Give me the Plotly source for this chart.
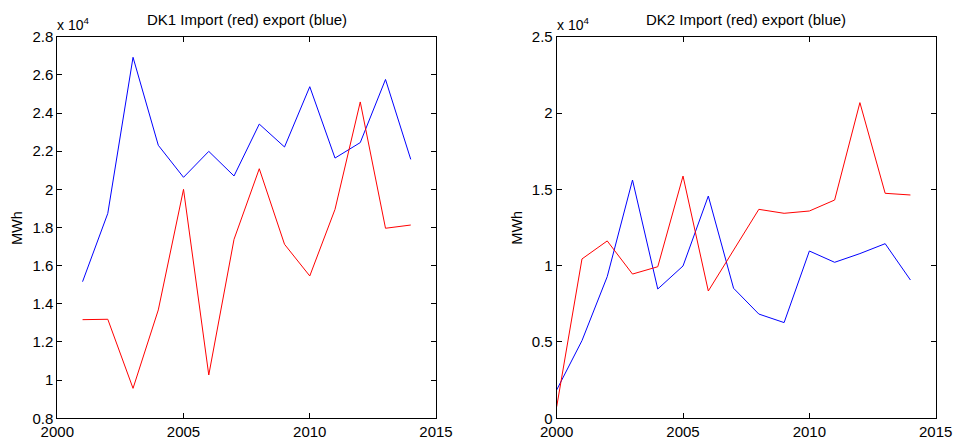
import plotly.graph_objects as go

years_dk1 = list(range(2001, 2015))
dk1_export = [15160, 18740, 26920, 22310, 20630, 21990, 20700, 23420, 22220, 25380, 21640, 22450, 25760, 21570]
dk1_import = [13170, 13190, 9570, 13680, 20000, 10270, 17380, 21080, 17120, 15460, 18950, 24580, 17960, 18130]

years_dk2 = list(range(2000, 2015))
dk2_export = [1860, 5090, 9280, 15610, 8470, 9980, 14560, 8520, 6830, 6270, 10960, 10220, 10790, 11440, 9060]
dk2_import = [760, 10440, 11620, 9450, 9930, 15870, 8340, 11000, 13690, 13430, 13580, 14300, 20680, 14740, 14630]

x_ticks = [2000, 2005, 2010, 2015]
dk1_yticks = [8000, 10000, 12000, 14000, 16000, 18000, 20000, 22000, 24000, 26000, 28000]
dk1_ylabels = ["0.8", "1", "1.2", "1.4", "1.6", "1.8", "2", "2.2", "2.4", "2.6", "2.8"]
dk2_yticks = [0, 5000, 10000, 15000, 20000, 25000]
dk2_ylabels = ["0", "0.5", "1", "1.5", "2", "2.5"]

titles = ["DK1 Import (red) export (blue)", "DK2 Import (red) export (blue)"]

W, H = 954, 439
FONT = "Liberation Sans, Arial, Helvetica, sans-serif"

fig = go.Figure()
fig.add_trace(go.Scatter(x=years_dk1, y=dk1_export, mode="lines", line=dict(color="#0000ff", width=1), xaxis="x", yaxis="y"))
fig.add_trace(go.Scatter(x=years_dk1, y=dk1_import, mode="lines", line=dict(color="#ff0000", width=1), xaxis="x", yaxis="y"))
fig.add_trace(go.Scatter(x=years_dk2, y=dk2_export, mode="lines", line=dict(color="#0000ff", width=1), xaxis="x2", yaxis="y2"))
fig.add_trace(go.Scatter(x=years_dk2, y=dk2_import, mode="lines", line=dict(color="#ff0000", width=1), xaxis="x2", yaxis="y2"))

l1, r1 = 57.3 / W, 436 / W
l2, r2 = 556.7 / W, 935.7 / W
yb, yt = 1 - 418.3 / H, 1 - 36.7 / H

axis_common = dict(showline=True, linecolor="black", linewidth=1, mirror="ticks",
                   ticks="inside", ticklen=5, tickwidth=1, tickcolor="black",
                   showgrid=False, zeroline=False, automargin=False,
                   tickfont=dict(family=FONT, size=15, color="black"))

fig.update_layout(
    template="none",
    width=W, height=H, autosize=False,
    margin=dict(l=0, r=0, t=0, b=0, pad=0, autoexpand=False),
    paper_bgcolor="white", plot_bgcolor="white",
    font=dict(family=FONT, color="black"),
    showlegend=False,
    xaxis=dict(domain=[l1, r1], range=[2000, 2015], tickvals=x_ticks, anchor="y", **axis_common),
    yaxis=dict(domain=[yb, yt], range=[8000, 28000], tickvals=dk1_yticks, ticktext=dk1_ylabels, anchor="x", **axis_common),
    xaxis2=dict(domain=[l2, r2], range=[2000, 2015], tickvals=x_ticks, anchor="y2", **axis_common),
    yaxis2=dict(domain=[yb, yt], range=[0, 25000], tickvals=dk2_yticks, ticktext=dk2_ylabels, anchor="x2", **axis_common),
)

ann = []
for (l, r, t) in [(l1, r1, titles[0]), (l2, r2, titles[1])]:
    ann.append(dict(x=(l + r) / 2, y=1 - 20 / H, xref="paper", yref="paper", text=t, showarrow=False,
                    xanchor="center", yanchor="middle", font=dict(family=FONT, size=15, color="black")))
    ann.append(dict(x=l - 2 / W, y=1 - 24 / H, xref="paper", yref="paper", text="x 10<sup>4</sup>", showarrow=False,
                    xanchor="left", yanchor="middle", font=dict(family=FONT, size=14, color="black")))
ann.append(dict(x=17 / W, y=1 - 228 / H, xref="paper", yref="paper", text="MWh", textangle=-90, showarrow=False,
                xanchor="center", yanchor="middle", font=dict(family=FONT, size=14.5, color="black")))
ann.append(dict(x=516.7 / W, y=1 - 228 / H, xref="paper", yref="paper", text="MWh", textangle=-90, showarrow=False,
                xanchor="center", yanchor="middle", font=dict(family=FONT, size=14.5, color="black")))
fig.update_layout(annotations=ann)

fig.write_html("out.html", config={"responsive": False, "displayModeBar": False},
               post_script="document.body.style.margin='0';document.body.style.overflow='hidden';")
